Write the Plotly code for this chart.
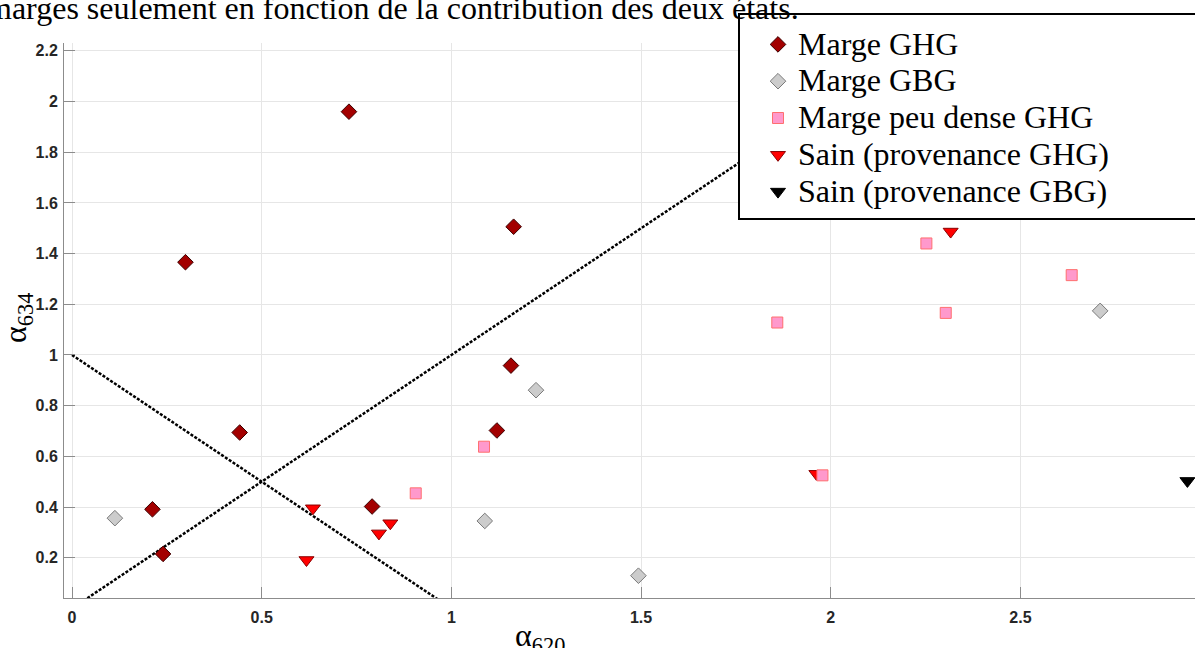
import plotly.graph_objects as go

# ---- data ----
ghg_x = [0.212, 0.240, 0.299, 0.442, 0.730, 0.791, 1.120, 1.157, 1.164]
ghg_y = [0.391, 0.215, 1.366, 0.694, 1.960, 0.402, 0.702, 0.958, 1.506]

gbg_x = [0.113, 1.088, 1.223, 1.493, 2.710]
gbg_y = [0.356, 0.345, 0.861, 0.129, 1.174]

peu_x = [0.906, 1.086, 1.859, 1.978, 2.252, 2.303, 2.635]
peu_y = [0.454, 0.638, 1.128, 0.525, 1.440, 1.166, 1.315]

sain_ghg_x = [0.618, 0.635, 0.809, 0.839, 1.962, 2.316]
sain_ghg_y = [0.191, 0.395, 0.296, 0.336, 0.531, 1.487]

sain_gbg_x = [2.940]
sain_gbg_y = [0.503]

diag_x = [0.0, 2.2]
diag_y = [0.0, 2.2]
anti_x = [0.0, 1.0]
anti_y = [1.0, 0.0]

x_ticks = [0, 0.5, 1, 1.5, 2, 2.5]
x_ticklabels = ["0", "0.5", "1", "1.5", "2", "2.5"]
y_ticks = [0.2, 0.4, 0.6, 0.8, 1.0, 1.2, 1.4, 1.6, 1.8, 2.0, 2.2]
y_ticklabels = ["0.2", "0.4", "0.6", "0.8", "1", "1.2", "1.4", "1.6", "1.8", "2", "2.2"]

names = ["Marge GHG", "Marge GBG", "Marge peu dense GHG",
         "Sain (provenance GHG)", "Sain (provenance GBG)"]
caption = "marges seulement en fonction de la contribution des deux états."

# ---- layout geometry ----
W, H = 1195, 648
ML, MR, MT, MB = 64, 0, 43, 50
PW = W - ML - MR
PH = H - MT - MB


def px(xp):
    return (xp - ML) / PW


def py(yp):
    return (H - MB - yp) / PH


SERIF = "Liberation Serif, Times New Roman, serif"
SANS = "Liberation Sans, Arial, sans-serif"


def lab(t):
    return '<span style="font-size:32px">' + t + '</span>'


fig = go.Figure()

dot = dict(color="black", width=2.5, dash="3px,1.6px")
fig.add_trace(go.Scatter(x=diag_x, y=diag_y, mode="lines", line=dot,
                         showlegend=False, hoverinfo="skip"))
fig.add_trace(go.Scatter(x=anti_x, y=anti_y, mode="lines", line=dot,
                         showlegend=False, hoverinfo="skip"))

fig.add_trace(go.Scatter(
    x=ghg_x, y=ghg_y, mode="markers", name=lab(names[0]), legendrank=1,
    marker=dict(symbol="diamond", size=12, color="#a30000",
                line=dict(color="#3c0000", width=1))))
fig.add_trace(go.Scatter(
    x=gbg_x, y=gbg_y, mode="markers", name=lab(names[1]), legendrank=2,
    marker=dict(symbol="diamond", size=12, color="#cccccc",
                line=dict(color="#7a7a7a", width=1))))
fig.add_trace(go.Scatter(
    x=sain_ghg_x, y=sain_ghg_y, mode="markers", name=lab(names[3]), legendrank=4,
    marker=dict(symbol="triangle-down", size=13, color="#ff0000",
                line=dict(color="#8a0000", width=1))))
fig.add_trace(go.Scatter(
    x=sain_gbg_x, y=sain_gbg_y, mode="markers", name=lab(names[4]), legendrank=5,
    marker=dict(symbol="triangle-down", size=13, color="#000000",
                line=dict(color="#000000", width=1))))
fig.add_trace(go.Scatter(
    x=peu_x, y=peu_y, mode="markers", name=lab(names[2]), legendrank=3,
    marker=dict(symbol="square", size=11, color="#ff99cc",
                line=dict(color="#ff6f6f", width=1))))

fig.update_layout(
    width=W, height=H,
    margin=dict(l=ML, r=MR, t=MT, b=MB, pad=0, autoexpand=False),
    paper_bgcolor="white", plot_bgcolor="white",
    showlegend=True,
    legend=dict(
        x=px(758), y=py(21), xanchor="left", yanchor="top",
        bgcolor="rgba(0,0,0,0)", borderwidth=0,
        font=dict(family=SERIF, size=26, color="black"),
        traceorder="normal", tracegroupgap=0, itemwidth=30,
    ),
    xaxis=dict(
        range=[-0.0211, 2.960], tickvals=x_ticks, ticktext=x_ticklabels,
        showgrid=True, gridcolor="#e6e6e6", gridwidth=1, zeroline=False,
        showline=True, linecolor="#8c8c8c", linewidth=1,
        ticks="inside", ticklen=11, tickcolor="#8c8c8c", tickwidth=1,
        ticklabelstandoff=5,
        tickfont=dict(family=SANS, size=16, color="#262626", weight="bold"),
    ),
    yaxis=dict(
        range=[0.041, 2.231], tickvals=y_ticks, ticktext=y_ticklabels,
        showgrid=True, gridcolor="#e6e6e6", gridwidth=1, zeroline=False,
        showline=True, linecolor="#8c8c8c", linewidth=1,
        ticks="inside", ticklen=11, tickcolor="#8c8c8c", tickwidth=1,
        ticklabelstandoff=2,
        tickfont=dict(family=SANS, size=16, color="#262626", weight="bold"),
    ),
    shapes=[dict(type="rect", xref="paper", yref="paper",
                 x0=px(739), x1=px(1210), y0=py(219), y1=py(14),
                 line=dict(color="black", width=2), fillcolor="white",
                 layer="above")],
    annotations=[
        dict(text=caption, xref="paper", yref="paper", x=px(801), y=py(28),
             xanchor="right", yanchor="bottom", showarrow=False,
             font=dict(family=SERIF, size=32, color="black")),
        dict(text="α<sub>620</sub>", xref="paper", yref="paper",
             x=px(540), y=py(615), xanchor="center", yanchor="top",
             showarrow=False, font=dict(family=SERIF, size=32, color="black")),
        dict(text="α<sub>634</sub>", xref="paper", yref="paper",
             x=px(17), y=py(318), xanchor="center", yanchor="middle",
             textangle=-90, showarrow=False,
             font=dict(family=SERIF, size=32, color="black")),
    ],
)

fig.write_html("out.html", config={"displayModeBar": False},
               post_script="document.body.style.margin='0px';")
